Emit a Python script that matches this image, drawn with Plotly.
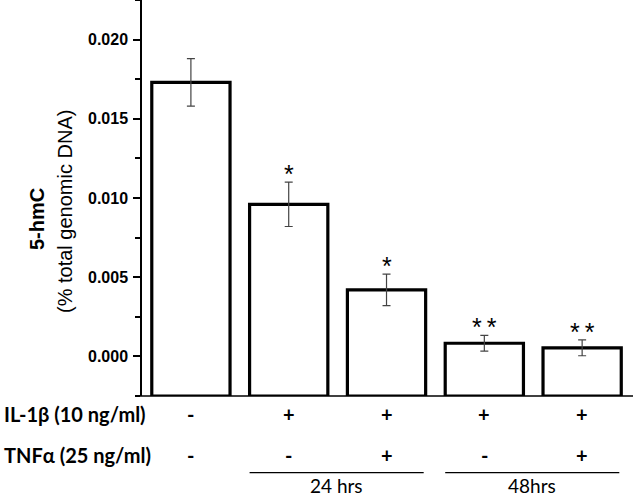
import plotly.graph_objects as go

# ---- data ----
categories = ["Control", "IL-1b 24h", "IL-1b+TNFa 24h", "IL-1b 48h", "IL-1b+TNFa 48h"]
values = [0.0173, 0.0096, 0.0042, 0.00083, 0.00054]
errors = [0.0015, 0.0014, 0.0010, 0.0005, 0.0005]
significance = ["", "*", "*", "**", "**"]
il1b_signs = ["-", "+", "+", "+", "+"]
tnf_signs = ["-", "-", "+", "-", "+"]
row_labels = ["IL-1β (10 ng/ml)", "TNFα (25 ng/ml)"]
time_groups = [("24 hrs", 1, 2), ("48hrs", 3, 4)]
y_range = [-0.0025, 0.0225]
y_ticks = [0.000, 0.005, 0.010, 0.015, 0.020]

idx = list(range(len(categories)))
base = y_range[0]

fig = go.Figure()
fig.add_trace(go.Bar(
    x=idx, y=[v - base for v in values], base=base, width=0.8,
    marker=dict(color="white", line=dict(color="black", width=3.2)),
    hoverinfo="skip", showlegend=False,
))
fig.add_trace(go.Scatter(
    x=idx, y=values, mode="markers",
    marker=dict(size=1, color="rgba(0,0,0,0)"),
    error_y=dict(type="data", array=errors, visible=True, color="#444", thickness=1.2, width=4),
    hoverinfo="skip", showlegend=False,
))

ann = []
for i, s in enumerate(significance):
    if s:
        ann.append(dict(x=i, y=values[i] + errors[i], xref="x", yref="y", text="\u2009".join(s), showarrow=False,
                        yanchor="bottom", yshift=-8, font=dict(family="Liberation Sans", size=25, color="black")))

W, H = 633, 497
L, B = 142, 101
pw, ph = W - L, H - B
def px_x(p):
    return (p - L) / pw
def px_y(p):
    return (ph - p) / ph

row_y = [px_y(414), px_y(455)]
label_font = dict(family="Lato", size=20, color="black", weight="bold")
for r, lab in enumerate(row_labels):
    ann.append(dict(x=px_x(2), y=row_y[r], xref="paper", yref="paper", text=lab, showarrow=False,
                    xanchor="left", yanchor="middle", font=label_font))
for r, signs in enumerate([il1b_signs, tnf_signs]):
    for i, s in enumerate(signs):
        ann.append(dict(x=i, y=row_y[r], xref="x", yref="paper", text=s, showarrow=False,
                        xanchor="center", yanchor="middle", font=label_font))

shapes = []
for name, a, b in time_groups:
    shapes.append(dict(type="line", xref="x", yref="paper", x0=a - 0.4, x1=b + 0.38,
                       y0=px_y(472.7), y1=px_y(472.7), line=dict(color="black", width=1.3)))
    ann.append(dict(x=(a + b) / 2 - 0.01, y=px_y(485), xref="x", yref="paper", text=name, showarrow=False,
                    xanchor="center", yanchor="middle", font=dict(family="Lato", size=19, color="black")))

# x axis line (extends slightly left of the y axis)
shapes.append(dict(type="line", xref="paper", yref="paper", x0=px_x(137), x1=1, y0=0, y1=0,
                   line=dict(color="black", width=1.5)))

# y-axis title (two lines)
ann.append(dict(x=px_x(37), y=px_y(219), xref="paper", yref="paper", text="<b>5-hmC</b>", textangle=-90,
                showarrow=False, xanchor="center", yanchor="middle",
                font=dict(family="Liberation Sans", size=20, color="black")))
ann.append(dict(x=px_x(65), y=px_y(212), xref="paper", yref="paper", text="(% total genomic DNA)", textangle=-90,
                showarrow=False, xanchor="center", yanchor="middle",
                font=dict(family="Liberation Sans", size=20, color="black")))

fig.update_layout(
    width=W, height=H,
    margin=dict(l=L, r=0, t=0, b=B),
    paper_bgcolor="white", plot_bgcolor="white",
    bargap=0.2,
    xaxis=dict(range=[-0.5, 4.52], showticklabels=False, ticks="", showgrid=False, zeroline=False,
               showline=False),
    yaxis=dict(range=y_range, tickvals=y_ticks, tickformat=".3f", ticks="outside", ticklen=7, tickwidth=1.5,
               tickcolor="black", showline=True, linecolor="black", linewidth=1.5, showgrid=False,
               zeroline=False, ticklabelstandoff=2,
               tickfont=dict(family="Liberation Sans", size=16, color="black", weight="bold"),
               minor=dict(dtick=0.0025, tick0=0, ticks="outside", ticklen=5, tickwidth=1.5, tickcolor="black",
                          showgrid=False)),
    annotations=ann,
    shapes=shapes,
)

fig.write_html("out.html", config={"displayModeBar": False},
               post_script="document.body.style.margin='0px';document.body.style.padding='0px';")
